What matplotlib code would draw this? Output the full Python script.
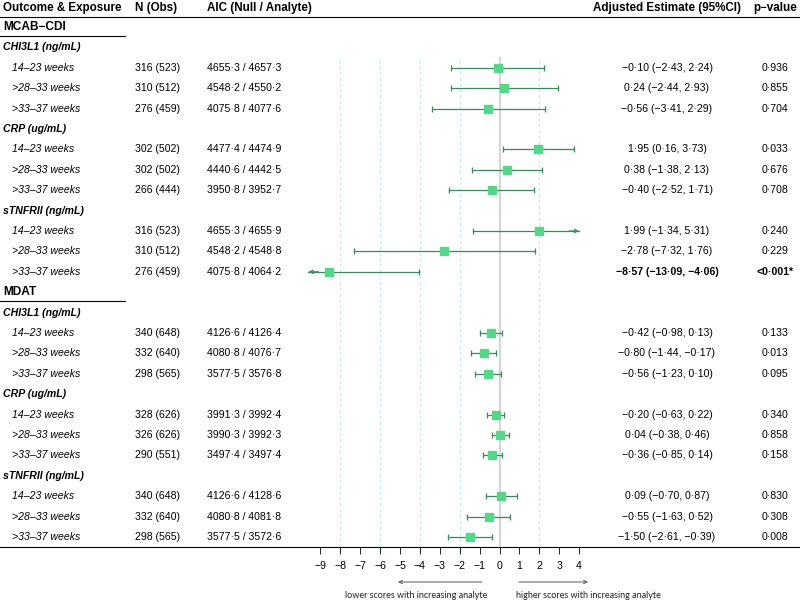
import matplotlib
matplotlib.use('Agg')
import matplotlib.pyplot as plt

plt.rcParams['font.family'] = ['Liberation Sans', 'DejaVu Sans']

# data
groups = ['MCAB\u2212CDI', 'MDAT']
analytes = ['CHI3L1 (ng/mL)', 'CRP (ug/mL)', 'sTNFRII (ng/mL)']
windows = ['14\u201323 weeks', '>28\u201333 weeks', '>33\u201337 weeks']

n_obs = ['316 (523)', '310 (512)', '276 (459)',
         '302 (502)', '302 (502)', '266 (444)',
         '316 (523)', '310 (512)', '276 (459)',
         '340 (648)', '332 (640)', '298 (565)',
         '328 (626)', '326 (626)', '290 (551)',
         '340 (648)', '332 (640)', '298 (565)']
aic = ['4655.3 / 4657.3', '4548.2 / 4550.2', '4075.8 / 4077.6',
       '4477.4 / 4474.9', '4440.6 / 4442.5', '3950.8 / 3952.7',
       '4655.3 / 4655.9', '4548.2 / 4548.8', '4075.8 / 4064.2',
       '4126.6 / 4126.4', '4080.8 / 4076.7', '3577.5 / 3576.8',
       '3991.3 / 3992.4', '3990.3 / 3992.3', '3497.4 / 3497.4',
       '4126.6 / 4128.6', '4080.8 / 4081.8', '3577.5 / 3572.6']
est = [-0.10, 0.24, -0.56, 1.95, 0.38, -0.40, 1.99, -2.78, -8.57,
       -0.42, -0.80, -0.56, -0.20, 0.04, -0.36, 0.09, -0.55, -1.50]
lo = [-2.43, -2.44, -3.41, 0.16, -1.38, -2.52, -1.34, -7.32, -13.09,
      -0.98, -1.44, -1.23, -0.63, -0.38, -0.85, -0.70, -1.63, -2.61]
hi = [2.24, 2.93, 2.29, 3.73, 2.13, 1.71, 5.31, 1.76, -4.06,
      0.13, -0.17, 0.10, 0.22, 0.46, 0.14, 0.87, 0.52, -0.39]
pvals = ['0.936', '0.855', '0.704', '0.033', '0.676', '0.708', '0.240', '0.229', '<0.001*',
         '0.133', '0.013', '0.095', '0.340', '0.858', '0.158', '0.830', '0.308', '0.008']
bold_rows = [8]

xmin, xmax = -9.6, 4.0
ticks = list(range(-9, 5))
dashed = [-8, -6, -4, -2, 2, 4]


def fmt(s):
    return s.replace('.', '\u00b7').replace('-', '\u2212')


W, H = 800, 603
fig = plt.figure(figsize=(W / 100, H / 100), dpi=100)
tab = fig.add_axes([0, 0, 1, 1])
tab.set_xlim(0, W)
tab.set_ylim(H, 0)
tab.axis('off')

y0, dy = 27, 20.4
fs = 7.6
hfs = 8.4
line_c = '#3b8a5e'
box_c = '#55d68a'

# forest axes
left_px = 499.5 + xmin * 19.9
right_px = 499.5 + xmax * 19.9
top_px, bot_px = 57, 547
fx = fig.add_axes([left_px / W, 1 - bot_px / H, (right_px - left_px) / W, (bot_px - top_px) / H])
fx.set_xlim(xmin, xmax)
fx.set_ylim(bot_px, top_px)
fx.patch.set_alpha(0)
for s in fx.spines.values():
    s.set_visible(False)
fx.set_yticks([])
fx.set_xticks(ticks)
fx.tick_params(axis='x', length=5, width=0.7, pad=5, labelsize=fs, color='#222222')
for v in dashed:
    fx.axvline(v, color='#bfe6e6', lw=0.6, ls=(0, (4, 3)), zorder=0)
fx.axvline(0, color='#d6d6d6', lw=1.6, zorder=0)

# header
hy = 8
tab.text(3, hy, 'Outcome & Exposure', fontsize=hfs, fontweight='bold', va='center')
tab.text(135, hy, 'N (Obs)', fontsize=hfs, fontweight='bold', va='center')
tab.text(207, hy, 'AIC (Null / Analyte)', fontsize=hfs, fontweight='bold', va='center')
tab.text(667, hy, 'Adjusted Estimate (95%CI)', fontsize=hfs, fontweight='bold', va='center', ha='center')
tab.text(775, hy, 'p\u2212value', fontsize=hfs, fontweight='bold', va='center', ha='center')
tab.plot([0, W], [16.5, 16.5], color='black', lw=0.8)
tab.plot([0, W], [547, 547], color='black', lw=0.8)

row = 0
k = 0
for g in groups:
    y = y0 + dy * row
    tab.text(3, y, g, fontsize=fs + 1, fontweight='bold', va='center')
    tab.plot([0, 125], [y + 8.5, y + 8.5], color='black', lw=0.8)
    row += 1
    for a in analytes:
        y = y0 + dy * row
        tab.text(3, y, a, fontsize=fs, fontweight='bold', style='italic', va='center')
        row += 1
        for w in windows:
            y = y0 + dy * row
            wt = 'bold' if k in bold_rows else 'normal'
            tab.text(12, y, w, fontsize=fs, style='italic', va='center')
            tab.text(135, y, n_obs[k], fontsize=fs, va='center')
            tab.text(207, y, fmt(aic[k]), fontsize=fs, va='center')
            ci = '%.2f (%.2f, %.2f)' % (est[k], lo[k], hi[k])
            tab.text(667, y, fmt(ci), fontsize=fs, va='center', ha='center', fontweight=wt)
            tab.text(775, y, fmt(pvals[k]), fontsize=fs, va='center', ha='center', fontweight=wt)

            a_lo = max(lo[k], xmin)
            a_hi = min(hi[k], xmax)
            fx.plot([a_lo, a_hi], [y, y], color=line_c, lw=0.9, zorder=2, clip_on=False)
            if lo[k] >= xmin:
                fx.plot([lo[k]], [y], marker='|', ms=5, mew=0.9, color=line_c, clip_on=False)
            else:
                fx.annotate('', xy=(xmin, y), xytext=(xmin + 0.5, y),
                            arrowprops=dict(arrowstyle='->', color=line_c, lw=0.9,
                                            shrinkA=0, shrinkB=0, mutation_scale=6),
                            annotation_clip=False)
            if hi[k] <= xmax:
                fx.plot([hi[k]], [y], marker='|', ms=5, mew=0.9, color=line_c, clip_on=False)
            else:
                fx.annotate('', xy=(xmax, y), xytext=(xmax - 0.5, y),
                            arrowprops=dict(arrowstyle='->', color=line_c, lw=0.9,
                                            shrinkA=0, shrinkB=0, mutation_scale=6),
                            annotation_clip=False)
            fx.plot([est[k]], [y], marker='s', ms=5.3, color=box_c, mec=box_c, zorder=3)
            row += 1
            k += 1

# direction arrows below axis
tab.annotate('', xy=(398, 582), xytext=(482, 582),
             arrowprops=dict(arrowstyle='->', color='#555555', lw=0.7, shrinkA=0, shrinkB=0, mutation_scale=6))
tab.annotate('', xy=(588, 582), xytext=(519, 582),
             arrowprops=dict(arrowstyle='->', color='#555555', lw=0.7, shrinkA=0, shrinkB=0, mutation_scale=6))
tab.text(487, 595, 'lower scores with increasing analyte', fontsize=6.5, family=['Lato', 'DejaVu Sans'],
         ha='right', va='center', color='#222222')
tab.text(516, 595, 'higher scores with increasing analyte', fontsize=6.5, family=['Lato', 'DejaVu Sans'],
         ha='left', va='center', color='#222222')

fig.savefig('out.png', dpi=100)
